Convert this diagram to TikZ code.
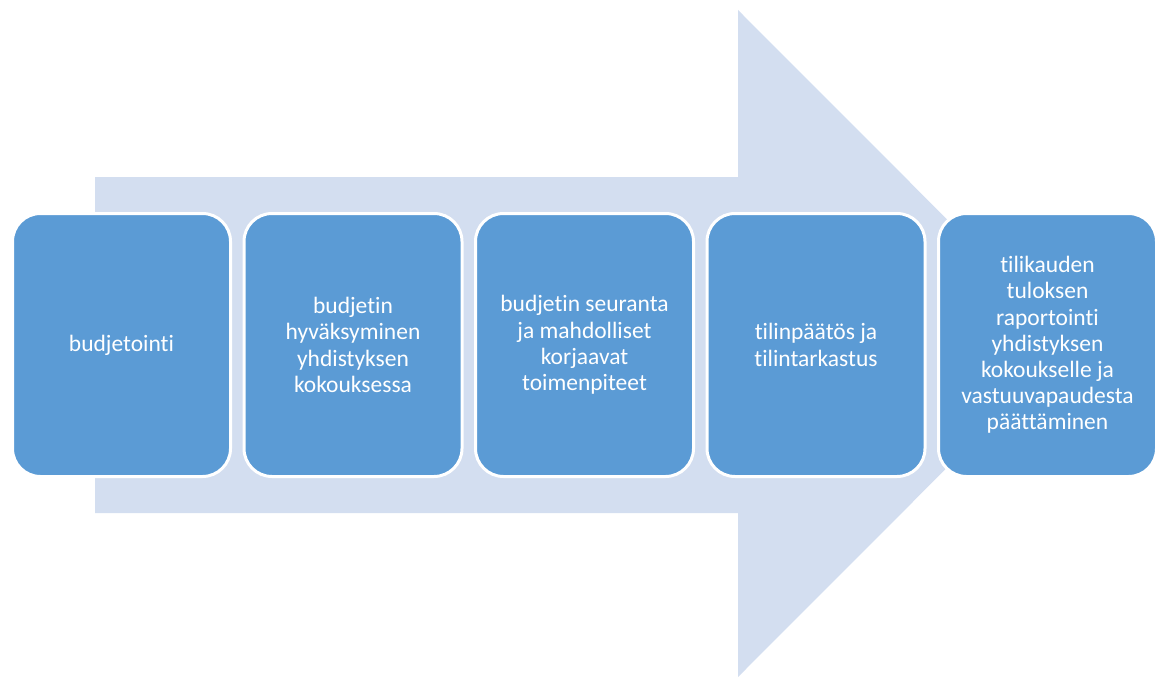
\documentclass[tikz,border=0pt]{standalone}
\usepackage{fontspec}
\setmainfont{Carlito}[Ligatures={NoCommon,NoRare,NoDiscretionary}]
\definecolor{boxblue}{HTML}{5B9BD5}
\definecolor{arrowblue}{HTML}{D3DEF0}
\begin{document}
\begin{tikzpicture}[x=1pt,y=-1pt,
  stepbox/.style={rectangle, rounded corners=28pt, fill=boxblue, draw=white,
    line width=3pt, minimum width=218pt, minimum height=263pt,
    text=white, align=center, font=\fontsize{23.5}{26.2}\selectfont, inner sep=0pt}]
\useasboundingbox (0,0) rectangle (1160,677);
\fill[arrowblue] (95,177) -- (738,177) -- (738,10) -- (1071,343.5) -- (738,677) -- (738,513) -- (95,513) -- cycle;
\node[stepbox] (b1) at (121.5,345) {budjetointi};
\node[stepbox] (b2) at (353,345) {budjetin\\hyväksyminen\\yhdistyksen\\kokouksessa};
\node[stepbox] (b3) at (584.5,345) {budjetin seuranta\\ja mahdolliset\\korjaavat\\toimenpiteet};
\node[stepbox] (b4) at (816,345) {tilinpäätös ja\\tilintarkastus};
\node[stepbox] (b5) at (1047.5,345) {tilikauden\\tuloksen\\raportointi\\yhdistyksen\\kokoukselle ja\\vastuuvapaudesta\\päättäminen};
\end{tikzpicture}
\end{document}
